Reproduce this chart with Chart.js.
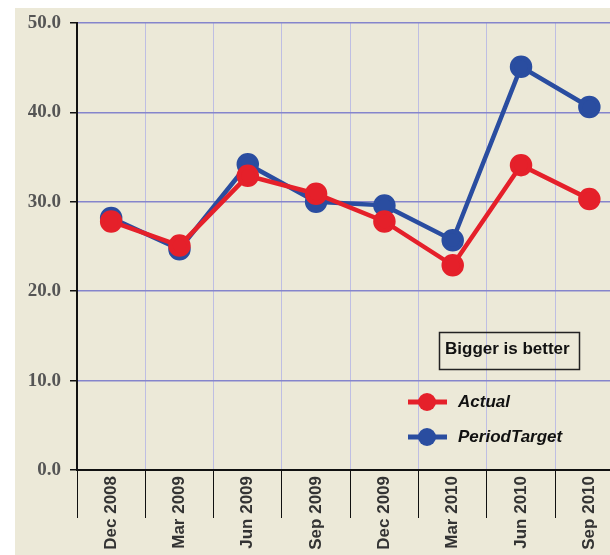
<!DOCTYPE html>
<html>
<head>
<meta charset="utf-8">
<script src="https://cdn.jsdelivr.net/npm/chart.js@4"></script>
<style>
  html, body { margin: 0; padding: 0; background: #fff; overflow: hidden; }
  #frame { position: absolute; left: 15px; top: 8px; width: 595px; height: 547px; background: #ECE9D8; overflow: hidden; }
  #myChart { position: absolute; left: 0; top: 0; }
</style>
</head>
<body>
<div id="frame"><canvas id="myChart" width="622" height="547"></canvas></div>
<script>
'use strict';

// Quarters along the bottom
var quarters = ['Dec 2008', 'Mar 2009', 'Jun 2009', 'Sep 2009', 'Dec 2009', 'Mar 2010', 'Jun 2010', 'Sep 2010'];
// Series values
var actual = [27.8, 25.1, 32.9, 30.9, 27.8, 22.9, 34.1, 30.3];
var periodTarget = [28.2, 24.7, 34.2, 30.0, 29.6, 25.7, 45.1, 40.6];
var yTicks = [0, 10, 20, 30, 40, 50];
var noteText = 'Bigger is better';

var RED = '#E5202A';
var BLUE = '#2A4DA0';

// Draws the note box and the legend inside the plot
var notePlugin = {
   id: 'notePlugin',
   afterDraw: function (chart) {
      var ctx = chart.ctx;
      ctx.save();
      // note box
      ctx.font = 'bold 17px "Liberation Sans", Arial, sans-serif';
      ctx.fillStyle = '#111';
      ctx.textBaseline = 'middle';
      ctx.textAlign = 'left';
      ctx.fillText(noteText, 430, 341);
      ctx.strokeStyle = '#222';
      ctx.lineWidth = 1.5;
      ctx.strokeRect(424.5, 324.5, 140, 37);
      // legend entries
      var rows = [394, 429];
      chart.data.datasets.forEach(function (ds, i) {
         var y = rows[i];
         ctx.strokeStyle = ds.borderColor;
         ctx.lineWidth = 5;
         ctx.beginPath();
         ctx.moveTo(393, y);
         ctx.lineTo(432, y);
         ctx.stroke();
         ctx.fillStyle = ds.borderColor;
         ctx.beginPath();
         ctx.arc(412, y, 9, 0, Math.PI * 2);
         ctx.fill();
         ctx.fillStyle = '#111';
         ctx.font = 'italic bold 17px "Liberation Sans", Arial, sans-serif';
         ctx.fillText(ds.label, 443, y);
      });
      ctx.restore();
   }
};

var ctx = document.getElementById('myChart');
var myChart = new Chart(ctx, {
   type: 'line',
   data: {
      labels: quarters,
      datasets: [{
         label: 'Actual',
         data: actual,
         borderColor: RED,
         backgroundColor: RED,
         pointBackgroundColor: RED,
         pointBorderColor: RED,
         borderWidth: 4.5,
         pointRadius: 9,
         tension: 0
      }, {
         label: 'PeriodTarget',
         data: periodTarget,
         borderColor: BLUE,
         backgroundColor: BLUE,
         pointBackgroundColor: BLUE,
         pointBorderColor: BLUE,
         borderWidth: 4.5,
         pointRadius: 9,
         tension: 0
      }]
   },
   options: {
      responsive: false,
      animation: false,
      layout: { padding: { top: 15, left: 0, right: 0, bottom: 0 } },
      plugins: {
         legend: { display: false },
         tooltip: { enabled: false }
      },
      scales: {
         x: {
            offset: true,
            afterFit: function (scale) {
               scale.height = 85;
               scale.paddingLeft = 0;
               scale.paddingRight = 0;
            },
            grid: {
               offset: true,
               color: '#BEBEE3',
               lineWidth: 1,
               tickColor: '#111',
               tickLength: 48,
               drawTicks: true
            },
            border: { color: '#111', width: 2 },
            ticks: {
               minRotation: 90,
               maxRotation: 90,
               autoSkip: false,
               padding: -42,
               color: '#333',
               font: { family: '"Liberation Sans", Arial, sans-serif', size: 17, weight: 'bold' }
            }
         },
         y: {
            min: yTicks[0],
            max: yTicks[yTicks.length - 1],
            afterFit: function (scale) {
               scale.width = 62;
               scale.paddingTop = 0;
               scale.paddingBottom = 0;
            },
            afterBuildTicks: function (scale) {
               scale.ticks = yTicks.map(function (v) { return { value: v }; });
            },
            grid: {
               color: '#8585CC',
               lineWidth: 1.5,
               tickColor: '#111',
               tickLength: 7
            },
            border: { color: '#111', width: 2 },
            ticks: {
               padding: 9,
               color: '#555',
               font: { family: '"Liberation Serif", "Times New Roman", serif', size: 19, weight: 'bold' },
               callback: function (v) { return Number(v).toFixed(1); }
            }
         }
      }
   },
   plugins: [notePlugin]
});
</script>
</body>
</html>
